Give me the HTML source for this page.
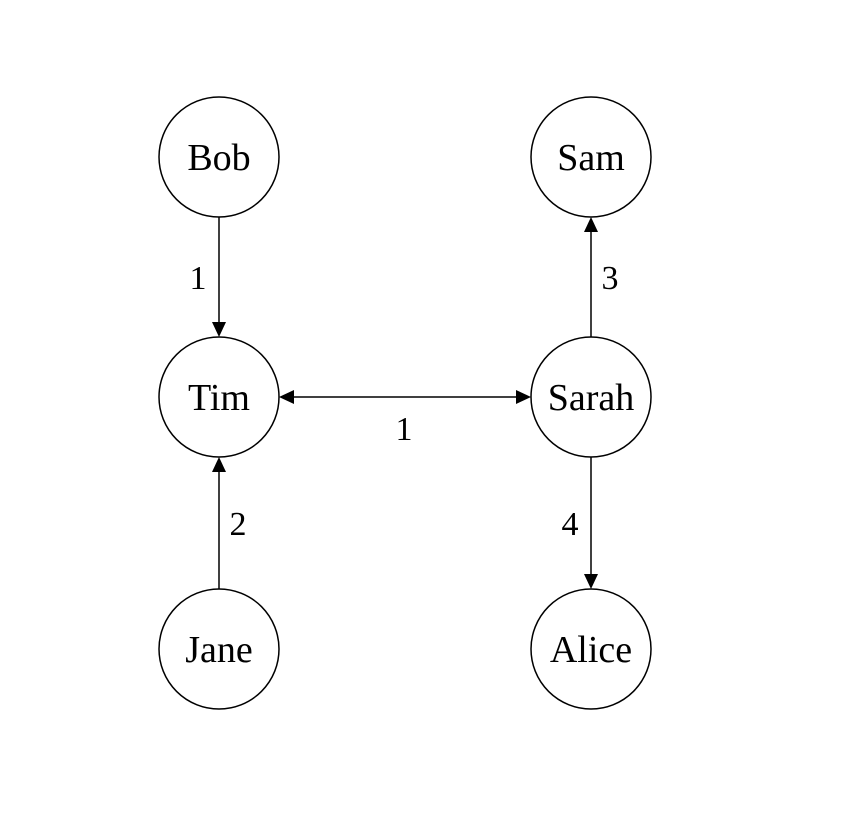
<!DOCTYPE html>
<html><head><style>body{margin:0;background:#fff}svg{display:block}</style></head>
<body>
<svg width="852" height="830" viewBox="0 0 852 830" xmlns="http://www.w3.org/2000/svg">
<g fill="none" stroke="#000" stroke-width="1.5">
<circle cx="219" cy="157" r="60"/>
<circle cx="591" cy="157" r="60"/>
<circle cx="219" cy="397" r="60"/>
<circle cx="591" cy="397" r="60"/>
<circle cx="219" cy="649" r="60"/>
<circle cx="591" cy="649" r="60"/>
<line x1="219" y1="217" x2="219" y2="325"/>
<line x1="219" y1="589" x2="219" y2="469"/>
<line x1="591" y1="337" x2="591" y2="229"/>
<line x1="591" y1="457" x2="591" y2="577"/>
<line x1="291" y1="397" x2="519" y2="397"/>
</g>
<g fill="#000">
<polygon points="212,322 226,322 219,337"/>
<polygon points="212,472 226,472 219,457"/>
<polygon points="584,232 598,232 591,217"/>
<polygon points="584,574 598,574 591,589"/>
<polygon points="294,390 294,404 279,397"/>
<polygon points="516,390 516,404 531,397"/>
</g>
<g font-family="Liberation Serif, serif" font-size="38" text-anchor="middle" fill="#000">
<text x="219" y="170">Bob</text>
<text x="591" y="170">Sam</text>
<text x="219" y="410">Tim</text>
<text x="591" y="410">Sarah</text>
<text x="219" y="662">Jane</text>
<text x="591" y="662">Alice</text>
</g>
<g font-family="Liberation Serif, serif" font-size="34" text-anchor="middle" fill="#000">
<text x="198" y="289">1</text>
<text x="238" y="535">2</text>
<text x="610" y="289">3</text>
<text x="570" y="535">4</text>
<text x="404" y="440">1</text>
</g>
</svg>
</body></html>
